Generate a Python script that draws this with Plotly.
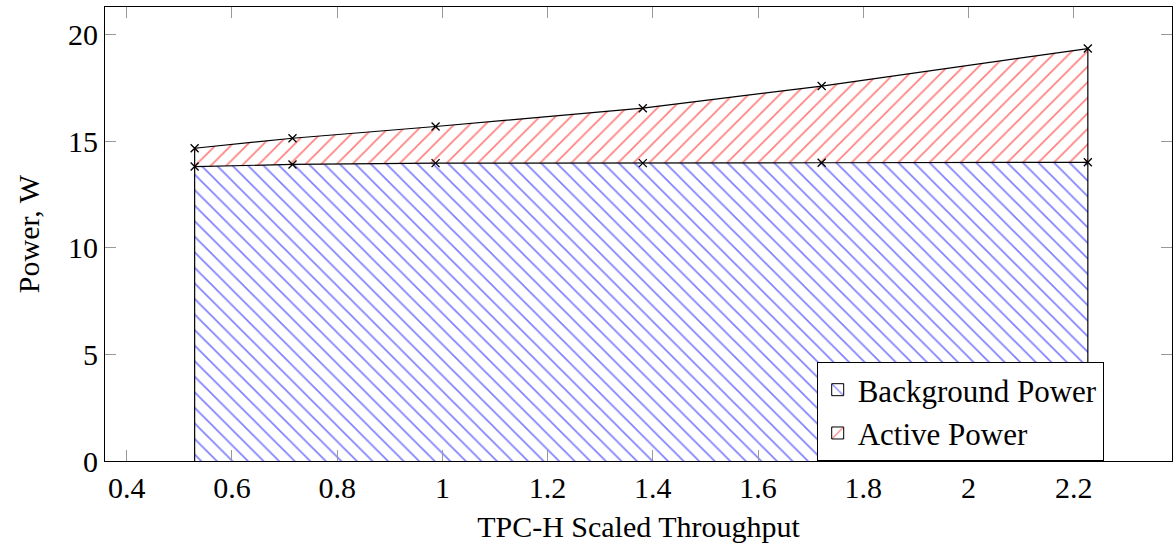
import plotly.graph_objects as go

throughput = [0.529, 0.715, 0.987, 1.381, 1.721, 2.227]
background_power = [13.82, 13.92, 13.98, 13.98, 14.00, 14.02]
total_power = [14.68, 15.15, 15.70, 16.56, 17.60, 19.36]
active_power = [t - b for t, b in zip(total_power, background_power)]

x_ticks = [0.4, 0.6, 0.8, 1.0, 1.2, 1.4, 1.6, 1.8, 2.0, 2.2]
x_tick_text = ["0.4", "0.6", "0.8", "1", "1.2", "1.4", "1.6", "1.8", "2", "2.2"]
y_ticks = [0, 5, 10, 15, 20]
y_tick_text = ["0", "5", "10", "15", "20"]

FONT = "'Liberation Serif', 'DejaVu Serif', serif"
marker = dict(symbol="x-thin", size=8, line=dict(width=1.3, color="black"), color="black")
blue_pat = dict(shape="\\", fgcolor="#0000ff", bgcolor="white", size=11, solidity=0.15)
red_pat = dict(shape="/", fgcolor="#ff0000", bgcolor="white", size=11, solidity=0.15)

fig = go.Figure()
fig.add_trace(go.Scatter(
    x=throughput, y=background_power, name="Background Power",
    mode="lines+markers", stackgroup="one", showlegend=False,
    line=dict(color="black", width=1.2), marker=marker,
    fillcolor="white", fillpattern=blue_pat,
))
fig.add_trace(go.Scatter(
    x=throughput, y=active_power, name="Active Power",
    mode="lines+markers", stackgroup="one", showlegend=False,
    line=dict(color="black", width=1.2), marker=marker,
    fillcolor="white", fillpattern=red_pat,
))
# vertical edges of the stacked area
for idx in (0, len(throughput) - 1):
    xi = throughput[idx]
    fig.add_trace(go.Scatter(
        x=[xi, xi], y=[0, total_power[idx]], mode="lines",
        line=dict(color="black", width=1.2), showlegend=False, hoverinfo="skip",
    ))
# legend entries (pattern swatches)
fig.add_trace(go.Bar(x=[None], y=[None], name="Background Power",
                     marker=dict(color="white", pattern=blue_pat, line=dict(color="black", width=1))))
fig.add_trace(go.Bar(x=[None], y=[None], name="Active Power",
                     marker=dict(color="white", pattern=red_pat, line=dict(color="black", width=1))))

axis_common = dict(
    showline=True, linecolor="black", linewidth=1, mirror="ticks",
    ticks="inside", ticklen=11, tickcolor="#999999", tickwidth=1,
    showgrid=False, zeroline=False,
    tickfont=dict(family=FONT, size=30, color="black"),
)

fig.update_layout(
    width=1174, height=545,
    margin=dict(l=105, r=2, t=7, b=84),
    paper_bgcolor="white", plot_bgcolor="white",
    font=dict(family=FONT, size=30, color="black"),
    xaxis=dict(range=[0.3586, 2.387], tickvals=x_ticks, ticktext=x_tick_text,
               title=dict(text="TPC-H Scaled Throughput", font=dict(family=FONT, size=30), standoff=12),
               **axis_common),
    yaxis=dict(range=[0, 21.31], tickvals=y_ticks, ticktext=y_tick_text, **axis_common),
    legend=dict(x=0.667, y=0.218, xanchor="left", yanchor="top",
                bgcolor="white", bordercolor="black", borderwidth=1,
                font=dict(family=FONT, size=31), tracegroupgap=0,
                traceorder="normal"),
    showlegend=True,
    annotations=[dict(text="Power, W", xref="paper", yref="paper", x=-0.072, y=0.5,
                      xanchor="center", yanchor="middle", textangle=-90, showarrow=False,
                      font=dict(family=FONT, size=30))],
)

fig.write_html("out.html")
